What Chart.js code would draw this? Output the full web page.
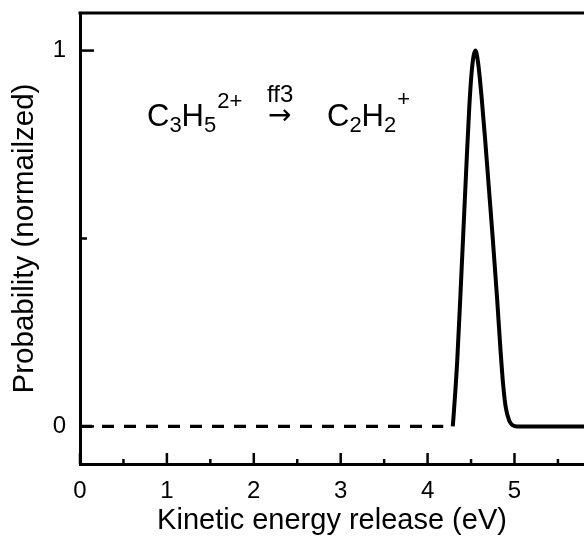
<!DOCTYPE html>
<html>
<head>
    <title>Kinetic energy release</title>
    <style>
        body { margin: 0; background: #fff; }
        #wrap { width: 584px; height: 541px; }
    </style>
    <script src="https://cdn.jsdelivr.net/npm/chart.js"></script>
</head>
<body>
    <div id="wrap"><canvas id="graph"></canvas></div>
    <script>
        // peak (solid)
        const kerPeak = [4.29, 4.30, 4.34, 4.38, 4.41, 4.45, 4.48, 4.51, 4.55, 4.58, 4.62, 4.66, 4.70, 4.75, 4.80, 4.84, 4.87, 4.90, 4.94, 4.98, 5.03, 5.80];
        const probPeak = [0, 0.03, 0.17, 0.36, 0.51, 0.71, 0.85, 0.95, 1.00, 0.97, 0.88, 0.77, 0.65, 0.50, 0.34, 0.20, 0.11, 0.05, 0.015, 0.003, 0, 0];
        // dashed baseline
        const kerBase = [0, 4.18];
        const probBase = [0, 0];

        const xTicks = [0, 0.5, 1, 1.5, 2, 2.5, 3, 3.5, 4, 4.5, 5, 5.5];
        const xLabels = ['0', '1', '2', '3', '4', '5'];
        const yTicks = [0, 0.5, 1];
        const yLabels = ['0', '1'];

        const FONT = 'Arial, "Liberation Sans", sans-serif';

        function pts(xs, ys) {
            return xs.map((x, i) => ({ x: x, y: ys[i] }));
        }

        // inward ticks, top frame line and the reaction label
        const decor = {
            id: 'decor',
            afterDraw(chart) {
                const c = chart.ctx, a = chart.chartArea;
                const xs = chart.scales.x, ys = chart.scales.y;
                c.save();
                c.strokeStyle = '#000';
                c.lineWidth = 3;
                c.beginPath();
                c.moveTo(a.left - 1.5, a.top);
                c.lineTo(a.right, a.top);
                c.stroke();

                c.lineWidth = 2.5;
                xTicks.forEach(v => {
                    const px = xs.getPixelForValue(v);
                    const len = Number.isInteger(v) ? 11 : 5;
                    c.beginPath();
                    c.moveTo(px, a.bottom);
                    c.lineTo(px, a.bottom - len);
                    c.stroke();
                });
                yTicks.forEach(v => {
                    const py = ys.getPixelForValue(v);
                    const len = v === 0.5 ? 7 : 14;
                    c.beginPath();
                    c.moveTo(a.left, py);
                    c.lineTo(a.left + len, py);
                    c.stroke();
                });

                // C3H5(2+) --ff3--> C2H2(+)
                c.fillStyle = '#000';
                c.textBaseline = 'alphabetic';
                c.textAlign = 'left';
                let x = 147;
                const base = 126;
                function put(t, size, dy) {
                    c.font = size + 'px ' + FONT;
                    c.fillText(t, x, base + dy);
                    x += c.measureText(t).width;
                }
                put('C', 31, 0);
                put('3', 22, 6);
                put('H', 31, 0);
                put('5', 22, 6);
                x += 1;
                put('2+', 22, -18);
                c.font = '24px ' + FONT;
                c.fillText('ff3', 267, 102);
                c.font = '28px "DejaVu Sans", ' + FONT;
                c.fillText('\u2192', 268, 124);
                x = 327;
                put('C', 31, 0);
                put('2', 22, 6);
                put('H', 31, 0);
                put('2', 22, 6);
                x += 1;
                put('+', 22, -20);
                c.restore();
            }
        };

        const ctx = document.getElementById('graph').getContext('2d');
        new Chart(ctx, {
            type: 'line',
            data: {
                datasets: [{
                    data: pts(kerBase, probBase),
                    borderColor: '#000',
                    borderWidth: 3.2,
                    borderDash: [12, 10],
                    pointRadius: 0,
                    fill: false
                }, {
                    data: pts(kerPeak, probPeak),
                    borderColor: '#000',
                    borderWidth: 4,
                    cubicInterpolationMode: 'monotone',
                    pointRadius: 0,
                    fill: false
                }]
            },
            options: {
                responsive: true,
                maintainAspectRatio: false,
                animation: false,
                layout: { padding: { top: 13, right: 0, left: 0, bottom: 0 } },
                plugins: {
                    legend: { display: false },
                    tooltip: { enabled: false }
                },
                scales: {
                    x: {
                        type: 'linear',
                        min: 0,
                        max: 5.8,
                        afterBuildTicks: s => { s.ticks = xTicks.map(v => ({ value: v })); },
                        afterFit: s => { s.height = 77; },
                        grid: { display: false, drawTicks: false },
                        border: { display: true, width: 3, color: '#000' },
                        ticks: {
                            color: '#000',
                            padding: 13,
                            maxRotation: 0,
                            autoSkip: false,
                            font: { family: FONT, size: 24 },
                            callback: v => Number.isInteger(v) ? xLabels[v] : ''
                        },
                        title: {
                            display: true,
                            text: 'Kinetic energy release (eV)',
                            color: '#000',
                            font: { family: FONT, size: 29 },
                            padding: { top: 0, bottom: 3 }
                        }
                    },
                    y: {
                        min: -0.1,
                        max: 1.1,
                        afterBuildTicks: s => { s.ticks = yTicks.map(v => ({ value: v })); },
                        afterFit: s => { s.width = 80; s.paddingTop = 0; s.paddingBottom = 0; },
                        grid: { display: false, drawTicks: false },
                        border: { display: true, width: 3, color: '#000' },
                        ticks: {
                            color: '#000',
                            padding: 14,
                            autoSkip: false,
                            font: { family: FONT, size: 24 },
                            callback: v => v === 0 ? yLabels[0] : (v === 1 ? yLabels[1] : '')
                        },
                        title: {
                            display: true,
                            text: 'Probability (normailzed)',
                            color: '#000',
                            font: { family: FONT, size: 29.5 },
                            padding: { top: 7, bottom: 0 }
                        }
                    }
                }
            },
            plugins: [decor]
        });
    </script>
</body>
</html>
